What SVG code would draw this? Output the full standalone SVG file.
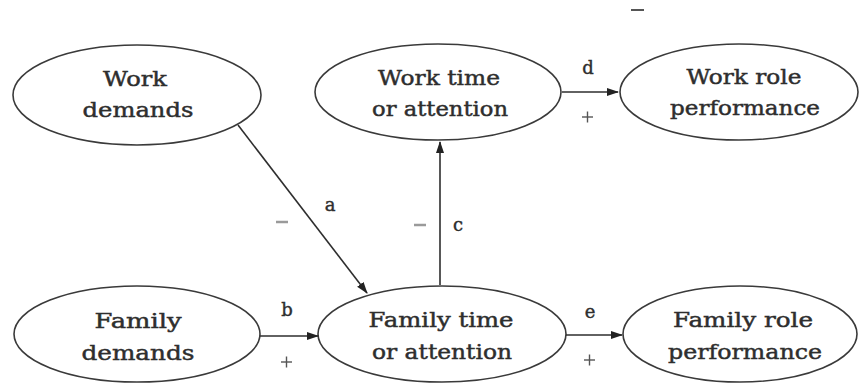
<svg xmlns="http://www.w3.org/2000/svg" width="859" height="385" viewBox="0 0 859 385">
<style>
.node ellipse{fill:#fff;stroke:#3a3a3a;stroke-width:1.6}
.lbl{font-family:"DejaVu Serif","Liberation Serif",serif;font-size:20px;fill:#2e2e2e;stroke:#2e2e2e;stroke-width:0.45;text-anchor:middle}
.edge{stroke:#2e2e2e;stroke-width:1.6;fill:none;marker-end:url(#ah)}
.el{font-family:"DejaVu Serif","Liberation Serif",serif;font-size:18px;fill:#2e2e2e;stroke:#2e2e2e;stroke-width:0.4;text-anchor:middle}
.sign{stroke:#555;stroke-width:1.4}
.minus{stroke:#9a9a9a;stroke-width:2.5}
</style>
<defs>
<marker id="ah" markerWidth="12" markerHeight="10" refX="11" refY="4" orient="auto" markerUnits="userSpaceOnUse">
<path d="M0,0 L12,4 L0,8 z" fill="#222"/>
</marker>
</defs>
<rect width="859" height="385" fill="#fff"/>
<line x1="631" y1="10" x2="644" y2="10" stroke="#555" stroke-width="2"/>
<g id="work-demands" class="node">
<ellipse cx="137" cy="95" rx="124" ry="50"/>
<text class="lbl" x="135" y="86" textLength="64" lengthAdjust="spacingAndGlyphs">Work</text>
<text class="lbl" x="138" y="117" textLength="111" lengthAdjust="spacingAndGlyphs">demands</text>
</g>
<g id="work-time" class="node">
<ellipse cx="438" cy="92" rx="123" ry="48"/>
<text class="lbl" x="439" y="85" textLength="122" lengthAdjust="spacingAndGlyphs">Work time</text>
<text class="lbl" x="440" y="116" textLength="136" lengthAdjust="spacingAndGlyphs">or attention</text>
</g>
<g id="work-role" class="node">
<ellipse cx="739" cy="92" rx="119" ry="48"/>
<text class="lbl" x="744" y="84" textLength="115" lengthAdjust="spacingAndGlyphs">Work role</text>
<text class="lbl" x="745" y="115" textLength="150" lengthAdjust="spacingAndGlyphs">performance</text>
</g>
<g id="family-demands" class="node">
<ellipse cx="137" cy="334" rx="123" ry="48"/>
<text class="lbl" x="138" y="328" textLength="87" lengthAdjust="spacingAndGlyphs">Family</text>
<text class="lbl" x="138" y="360" textLength="113" lengthAdjust="spacingAndGlyphs">demands</text>
</g>
<g id="family-time" class="node">
<ellipse cx="442" cy="334" rx="124" ry="48"/>
<text class="lbl" x="441" y="327" textLength="145" lengthAdjust="spacingAndGlyphs">Family time</text>
<text class="lbl" x="442" y="359" textLength="140" lengthAdjust="spacingAndGlyphs">or attention</text>
</g>
<g id="family-role" class="node">
<ellipse cx="740" cy="334" rx="117" ry="48"/>
<text class="lbl" x="743" y="327" textLength="140" lengthAdjust="spacingAndGlyphs">Family role</text>
<text class="lbl" x="745" y="359" textLength="154" lengthAdjust="spacingAndGlyphs">performance</text>
</g>
<g id="connectors">
<line class="edge" x1="238" y1="125" x2="367" y2="293"/>
<text class="el" x="330" y="211">a</text>
<line class="minus" x1="276" y1="222" x2="288" y2="222"/>
<line class="edge" x1="440" y1="285" x2="440" y2="142"/>
<text class="el" x="458" y="231">c</text>
<line class="minus" x1="414" y1="225" x2="426" y2="225"/>
<line class="edge" x1="562" y1="92" x2="618" y2="92"/>
<text class="el" x="588" y="74">d</text>
<line class="sign" x1="582" y1="117" x2="593" y2="117"/><line class="sign" x1="587.5" y1="111.5" x2="587.5" y2="122.5"/>
<line class="edge" x1="260" y1="336" x2="318" y2="336"/>
<text class="el" x="287" y="316">b</text>
<line class="sign" x1="281" y1="362" x2="292" y2="362"/><line class="sign" x1="286.5" y1="356.5" x2="286.5" y2="367.5"/>
<line class="edge" x1="566" y1="335" x2="622" y2="335"/>
<text class="el" x="590" y="318">e</text>
<line class="sign" x1="584" y1="360" x2="595" y2="360"/><line class="sign" x1="589.5" y1="354.5" x2="589.5" y2="365.5"/>
</g>
</svg>
